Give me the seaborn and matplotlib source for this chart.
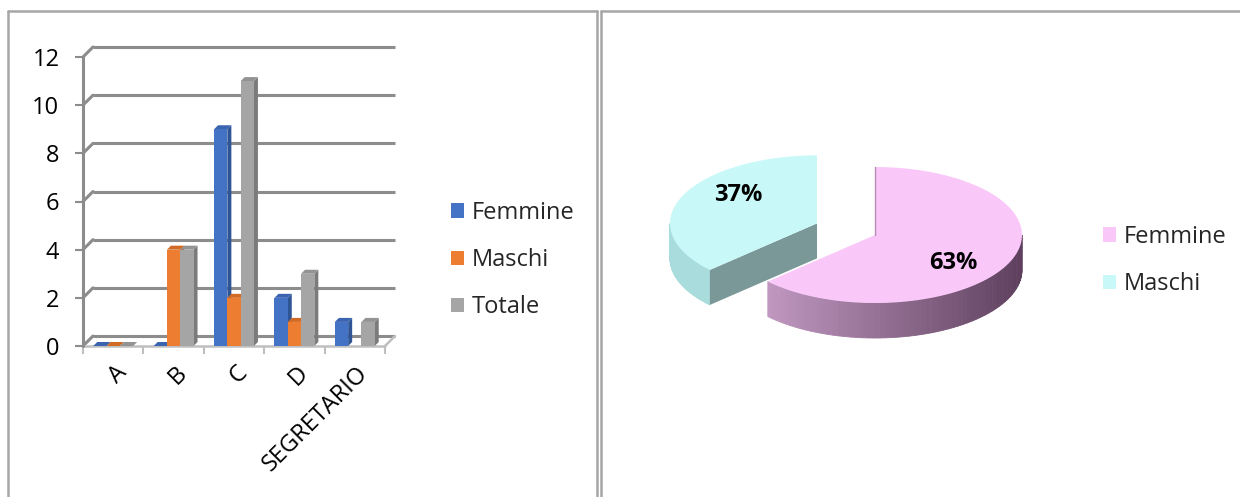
import numpy as np
import pandas as pd
import matplotlib
matplotlib.use("Agg")
import matplotlib.pyplot as plt
from matplotlib.patches import Polygon, Patch
from matplotlib.lines import Line2D
from matplotlib.transforms import ScaledTranslation
import seaborn as sns

# ---- data ----
categories = ["A", "B", "C", "D", "SEGRETARIO"]
series = ["Femmine", "Maschi", "Totale"]
femmine = [0, 0, 9, 2, 1]
maschi = [0, 4, 2, 1, np.nan]   # empty cell in the source table
totale = [0, 4, 11, 3, 1]
y_ticks = [0, 2, 4, 6, 8, 10, 12]

pie_labels = ["Femmine", "Maschi"]
pie_share = [63, 37]

# ---- styles ----
bar_colors = {"Femmine": "#4472C4", "Maschi": "#ED7D31", "Totale": "#A5A5A5"}
top_colors = {"Femmine": "#3B64B0", "Maschi": "#D06A25", "Totale": "#939393"}
side_colors = {"Femmine": "#2F5597", "Maschi": "#A9561C", "Totale": "#7B7B7B"}
pie_top = {"Femmine": "#F9C8F9", "Maschi": "#C9F8F8"}
pie_wall = {"Femmine": ("#CFA5CF", "#5E405E"), "Maschi": ("#A9DCDC", "#A9DCDC")}
pie_cut = {"Femmine": "#8C6A8C", "Maschi": "#7A9898"}
grid_col = "#8C8C8C"
frame_col = "#A6A6A6"

W, H = 1240, 497
sns.set_theme(style="white")
plt.rcParams["font.family"] = ["Open Sans", "DejaVu Sans"]
FS = 17

fig = plt.figure(figsize=(W / 100, H / 100), dpi=100)

# ---- table frame ----
for xs, ys in [((8, 597), (11, 11)), ((601, W), (11, 11)),
               ((8, 8), (11, H)), ((597, 597), (11, H)), ((601, 601), (11, H))]:
    fig.add_artist(Line2D([x / W for x in xs], [1 - y / H for y in ys],
                          color=frame_col, lw=1.8, transform=fig.transFigure))

# ---- left: pseudo-3D clustered columns ----
ax = fig.add_axes([83 / W, 1 - 346 / H, 302 / W, 289 / H])
df = pd.DataFrame({
    "categoria": categories * 3,
    "serie": np.repeat(series, len(categories)),
    "valore": femmine + maschi + totale,
})
sns.barplot(data=df, x="categoria", y="valore", hue="serie", order=categories,
            hue_order=series, palette=bar_colors, saturation=1, width=0.66,
            ax=ax, legend=False, zorder=3, linewidth=0, errorbar=None)
ax.set_xlim(-0.5, len(categories) - 0.5)
ax.set_ylim(0, 12)

px_x = 302 / len(categories)   # pixels per category
px_y = 289 / 12                # pixels per unit
bdx, bdy = 4 / px_x, 4 / px_y      # column depth
gdx, gdy = 10 / px_x, 10 / px_y    # wall depth

for cont, name in zip(ax.containers, series):
    for p in cont.patches:
        x0, w, h = p.get_x(), p.get_width(), p.get_height()
        if not np.isfinite(h):
            continue
        ax.add_patch(Polygon([(x0, h), (x0 + w, h), (x0 + w + bdx, h + bdy), (x0 + bdx, h + bdy)],
                             closed=True, fc=top_colors[name], ec="none", zorder=2.5))
        ax.add_patch(Polygon([(x0 + w, 0), (x0 + w, h), (x0 + w + bdx, h + bdy), (x0 + w + bdx, bdy)],
                             closed=True, fc=side_colors[name], ec="none", zorder=2))

xa, xb = -0.5, len(categories) - 0.5
for v in y_ticks:
    ax.plot([xa + gdx, xb + gdx], [v + gdy, v + gdy], color=grid_col, lw=2.2,
            clip_on=False, zorder=1, solid_capstyle="butt")
    ax.plot([xa, xa + gdx], [v, v + gdy], color=grid_col, lw=2.2, clip_on=False, zorder=1)
ax.plot([xa, xb], [0, 0], color="#BFBFBF", lw=1.8, clip_on=False, zorder=1)
ax.plot([xb, xb + gdx], [0, gdy], color="#BFBFBF", lw=1.8, clip_on=False, zorder=1)
ax.plot([xa, xa], [0, 12], color=grid_col, lw=2.2, clip_on=False, zorder=1)

sns.despine(ax=ax, left=True, bottom=True)
ax.set_xlabel("")
ax.set_ylabel("")
ax.set_yticks(y_ticks)
ax.tick_params(axis="y", length=6, width=1.5, color=grid_col, pad=11, labelsize=FS,
               left=True, labelcolor="black")
ax.set_xticks(range(len(categories)))
ax.set_xticklabels(categories, rotation=45, ha="right", va="center", rotation_mode="anchor")
ax.set_xticks(np.arange(len(categories) + 1) - 0.5, minor=True)
ax.tick_params(axis="x", which="major", length=0, pad=17, labelsize=FS, labelcolor="black")
ax.tick_params(axis="x", which="minor", length=6, width=1.5, color="#BFBFBF", bottom=True)
for lab in ax.get_xticklabels():
    lab.set_transform(lab.get_transform() + ScaledTranslation(0.1, 0, fig.dpi_scale_trans))

handles = [Patch(fc=bar_colors[s], ec="none") for s in series]
ax.legend(handles, series, loc="center left", bbox_to_anchor=(430 / W, 1 - 260 / H),
          bbox_transform=fig.transFigure, frameon=False, fontsize=FS,
          handlelength=0.55, handleheight=0.55, handletextpad=0.3, labelspacing=0.98)

# ---- right: pseudo-3D exploded pie ----
rx, ry = 147, 68
ax2 = fig.add_axes([(875 - 1.8 * rx) / W, 1 - (235 + 1.7 * ry) / H, 3.0 * rx / W, 3.1 * ry / H])
ax2.set_xlim(-1.8, 1.2)
ax2.set_ylim(-1.7, 1.4)
ax2.axis("off")
depth = 35 / ry
explode = [0.0, 0.43]

bounds = 90 - 360 * np.cumsum([0] + pie_share) / sum(pie_share)
slices = []
for i, name in enumerate(pie_labels):
    t1, t2 = bounds[i + 1], bounds[i]
    mid = np.radians((t1 + t2) / 2)
    cx, cy = explode[i] * np.cos(mid), explode[i] * np.sin(mid)
    slices.append((name, t1, t2, mid, cx, cy, pie_share[i]))


def arc(cx, cy, a1, a2, dz=0.0, n=120):
    t = np.radians(np.linspace(a1, a2, n))
    return np.column_stack([cx + np.cos(t), cy + np.sin(t) - dz])


for name, t1, t2, mid, cx, cy, share in slices[::-1]:
    # outer wall, front half only
    for k in (-1, 0, 1):
        lo, hi = max(t1, -180 + 360 * k), min(t2, 360 * k)
        if hi <= lo:
            continue
        c0, c1 = [np.array(matplotlib.colors.to_rgb(c)) for c in pie_wall[name]]
        edges = np.linspace(lo, hi, 60)
        for j in range(len(edges) - 1):
            f = (np.cos(np.radians((edges[j] + edges[j + 1]) / 2)) + 1) / 2
            col = c0 + (c1 - c0) * f
            top = arc(cx, cy, edges[j], edges[j + 1], n=4)
            bot = arc(cx, cy, edges[j + 1], edges[j], dz=depth, n=4)
            ax2.add_patch(Polygon(np.vstack([top, bot]), closed=True, fc=col, ec=col, lw=0.6))
    # radial cut faces facing the viewer
    for edge, sign in ((t1, 1), (t2, -1)):
        if sign * np.cos(np.radians(edge)) > 1e-6:
            ex, ey = cx + np.cos(np.radians(edge)), cy + np.sin(np.radians(edge))
            ax2.add_patch(Polygon([(cx, cy), (ex, ey), (ex, ey - depth), (cx, cy - depth)],
                                  closed=True, fc=pie_cut[name], ec="none"))
    # top face
    ax2.add_patch(Polygon(np.vstack([[cx, cy], arc(cx, cy, t1, t2)]), closed=True,
                          fc=pie_top[name], ec="none"))
    ax2.text(cx + 0.58 * np.cos(mid), cy + 1.05 * np.sin(mid), f"{share}%",
             ha="center", va="center", fontsize=FS, fontweight="bold", color="black")

# faint seam at the 12 o'clock edge of the big slice
ax2.plot([0, 0], [0, 1], color="#B48EB4", lw=1)

handles2 = [Patch(fc=pie_top[s], ec="none") for s in pie_labels]
ax2.legend(handles2, pie_labels, loc="center left", bbox_to_anchor=(1082 / W, 1 - 260.5 / H),
           bbox_transform=fig.transFigure, frameon=False, fontsize=FS,
           handlelength=0.55, handleheight=0.55, handletextpad=0.3, labelspacing=0.98)

fig.savefig("out.png", dpi=100)
